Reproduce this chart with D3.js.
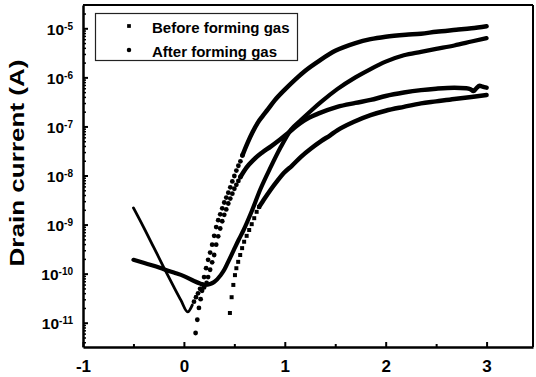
<!DOCTYPE html>
<html><head><meta charset="utf-8">
<script src="https://cdn.jsdelivr.net/npm/d3@7"></script>
<style>
html,body{margin:0;padding:0;background:#fff;}
svg{display:block;font-family:"Liberation Sans",Arial,Helvetica,sans-serif;}
</style></head><body>
<svg id="c" width="536" height="377"></svg>
<script>
// ---------- data (gate voltage V, drain current A) ----------
const legendLabels = ["Before forming gas", "After forming gas"];
const xMajorTicks = [-1, 0, 1, 2, 3];
const xMinorTicks = [-0.5, 0.5, 1.5, 2.5];
const yMajorExponents = [-11, -10, -9, -8, -7, -6, -5];

// After forming gas, higher curve: V-shaped leakage branch, steep dotted rise, saturating tail
const afterHighBranch = [[-0.50,2.19e-9],[-0.40,8.9e-10],[-0.30,3.47e-10],[-0.20,1.35e-10],[-0.10,5.37e-11],[-0.03,2.88e-11],[0.037,1.66e-11],[0.083,2.29e-11]];
const afterHighDots = [[0.10,2.69e-11],[0.12,3.31e-11],[0.14,3.98e-11],[0.16,4.90e-11],[0.18,6.03e-11],[0.20,8.51e-11],[0.22,1.29e-10],[0.24,1.91e-10],[0.26,2.69e-10],[0.28,3.89e-10],[0.30,5.89e-10],[0.32,8.91e-10],[0.34,1.23e-9],[0.36,1.62e-9],[0.38,2.14e-9],[0.40,2.82e-9],[0.42,3.55e-9],[0.44,4.47e-9],[0.46,5.75e-9],[0.48,7.59e-9],[0.50,9.77e-9],[0.52,1.26e-8],[0.54,1.58e-8],[0.56,1.95e-8],[0.58,2.57e-8]];
const afterHighTail = [[0.58,2.57e-8],[0.63,4.57e-8],[0.68,7.59e-8],[0.73,1.17e-7],[0.78,1.62e-7],[0.83,2.19e-7],[0.90,3.39e-7],[1.00,5.62e-7],[1.10,8.91e-7],[1.20,1.35e-6],[1.35,2.24e-6],[1.50,3.47e-6],[1.70,5.01e-6],[1.85,6.03e-6],[2.00,6.76e-6],[2.20,7.41e-6],[2.35,7.76e-6],[2.50,8.51e-6],[2.70,9.33e-6],[2.85,1.0e-5],[3.00,1.10e-5]];

// After forming gas, lower curve
const afterLowDots = [[0.116,6.17e-12],[0.133,1.15e-11],[0.149,2.0e-11],[0.166,3.02e-11],[0.18,4.47e-11],[0.20,5.25e-11],[0.225,6.46e-11],[0.24,8.51e-11],[0.26,1.20e-10],[0.28,1.70e-10],[0.30,2.40e-10],[0.32,3.89e-10],[0.34,5.75e-10],[0.36,8.32e-10],[0.38,1.17e-9],[0.40,1.58e-9],[0.42,2.04e-9],[0.44,2.69e-9],[0.46,3.39e-9],[0.48,4.27e-9],[0.50,5.37e-9],[0.52,6.46e-9],[0.54,7.76e-9],[0.56,9.33e-9]];
const afterLowTail = [[0.56,9.33e-9],[0.62,1.45e-8],[0.69,2.09e-8],[0.77,2.88e-8],[0.86,3.89e-8],[0.95,5.37e-8],[1.03,7.24e-8],[1.11,1.0e-7],[1.19,1.32e-7],[1.33,1.82e-7],[1.52,2.51e-7],[1.70,3.02e-7],[1.85,3.47e-7],[2.00,4.17e-7],[2.18,4.90e-7],[2.35,5.50e-7],[2.50,5.89e-7],[2.68,6.17e-7],[2.80,6.03e-7],[2.84,5.75e-7],[2.87,5.25e-7],[2.90,6.03e-7],[2.93,6.76e-7],[2.96,6.46e-7],[3.00,6.17e-7]];

// Before forming gas, higher curve (dense, appears solid)
const beforeHighTrace = [[-0.50,1.91e-10],[-0.40,1.66e-10],[-0.30,1.45e-10],[-0.20,1.23e-10],[-0.10,1.05e-10],[0.00,8.91e-11],[0.10,7.08e-11],[0.16,6.31e-11],[0.215,5.89e-11],[0.26,6.17e-11],[0.30,6.76e-11],[0.365,9.33e-11],[0.40,1.20e-10],[0.434,1.66e-10],[0.494,3.02e-10],[0.543,4.90e-10],[0.592,7.76e-10],[0.662,1.66e-9],[0.76,5.37e-9],[0.86,1.48e-8],[0.96,3.80e-8],[1.06,8.51e-8],[1.16,1.35e-7],[1.26,2.09e-7],[1.36,3.16e-7],[1.52,5.75e-7],[1.70,1.0e-6],[1.85,1.48e-6],[2.00,2.09e-6],[2.18,2.82e-6],[2.35,3.31e-6],[2.50,3.80e-6],[2.68,4.47e-6],[2.85,5.37e-6],[3.00,6.31e-6]];

// Before forming gas, lower curve
const beforeLowDots = [[0.456,1.58e-11],[0.473,3.31e-11],[0.490,5.89e-11],[0.506,9.33e-11],[0.520,1.29e-10],[0.538,1.74e-10],[0.558,2.40e-10],[0.577,3.31e-10],[0.597,4.47e-10],[0.622,5.89e-10],[0.647,7.76e-10],[0.672,1.02e-9],[0.697,1.35e-9],[0.721,1.82e-9],[0.746,2.29e-9]];
const beforeLowTail = [[0.746,2.29e-9],[0.80,3.39e-9],[0.86,5.13e-9],[0.93,7.94e-9],[0.99,1.12e-8],[1.07,1.58e-8],[1.16,2.40e-8],[1.26,3.55e-8],[1.36,5.01e-8],[1.45,6.61e-8],[1.52,8.32e-8],[1.68,1.23e-7],[1.85,1.70e-7],[2.00,2.09e-7],[2.18,2.51e-7],[2.35,2.95e-7],[2.50,3.24e-7],[2.68,3.63e-7],[2.85,3.98e-7],[3.00,4.37e-7]];

// ---------- layout ----------
const L = 83, R = 533, T = 5, B = 347;
const svg = d3.select("#c");
const x = d3.scaleLinear().domain([-1, 3.46]).range([L, R]);
const y = d3.scaleLog().domain([3.2e-12, 2.985e-5]).range([B, T]);
const ink = "#000";

// clip
svg.append("defs").append("clipPath").attr("id", "clip")
  .append("rect").attr("x", L).attr("y", T).attr("width", R - L).attr("height", B - T);

// frame (top, right)
svg.append("line").attr("x1", L).attr("x2", R).attr("y1", T).attr("y2", T).attr("stroke", ink).attr("stroke-width", 2);
svg.append("line").attr("x1", R).attr("x2", R).attr("y1", T).attr("y2", B).attr("stroke", ink).attr("stroke-width", 2);

// x axis
const gx = svg.append("g").attr("transform", `translate(0,${B})`)
  .call(d3.axisBottom(x).tickValues(xMajorTicks).tickSizeInner(-5).tickSizeOuter(0).tickPadding(13).tickFormat(d3.format("d")));
gx.select(".domain").attr("stroke", ink).attr("stroke-width", 2.5);
gx.selectAll(".tick line").attr("stroke", ink).attr("stroke-width", 2);
gx.selectAll(".tick text").attr("font-size", 17).attr("font-weight", "bold").attr("fill", ink)
  .text(d => d < 0 ? "-" + Math.abs(d) : String(d));
const gxm = svg.append("g").attr("transform", `translate(0,${B})`)
  .call(d3.axisBottom(x).tickValues(xMinorTicks).tickSizeInner(-3).tickSizeOuter(0).tickFormat(""));
gxm.select(".domain").remove();
gxm.selectAll(".tick line").attr("stroke", ink).attr("stroke-width", 2);

// y axis
const yMajorVals = yMajorExponents.map(e => Math.pow(10, e));
const gy = svg.append("g").attr("transform", `translate(${L},0)`)
  .call(d3.axisLeft(y).tickValues(yMajorVals).tickSizeInner(-5).tickSizeOuter(0).tickFormat(""));
gy.select(".domain").attr("stroke", ink).attr("stroke-width", 2.5);
gy.selectAll(".tick line").attr("stroke", ink).attr("stroke-width", 2);
gy.selectAll(".tick text").remove();
gy.selectAll(".tick").each(function(d, i) {
  const t = d3.select(this).append("text")
    .attr("x", -10).attr("y", 6).attr("text-anchor", "end")
    .attr("font-weight", "bold").attr("fill", ink);
  t.append("tspan").attr("font-size", 15.5).text("10");
  t.append("tspan").attr("font-size", 10).attr("dy", -5).text(String(yMajorExponents[i]));
});
const yMinorVals = [];
for (let e = -12; e <= -5; e++) for (let m = 2; m <= 9; m++) {
  const v = m * Math.pow(10, e);
  if (v >= y.domain()[0] && v <= y.domain()[1]) yMinorVals.push(v);
}
const gym = svg.append("g").attr("transform", `translate(${L},0)`)
  .call(d3.axisLeft(y).tickValues(yMinorVals).tickSizeInner(-3).tickSizeOuter(0).tickFormat(""));
gym.select(".domain").remove();
gym.selectAll(".tick line").attr("stroke", ink).attr("stroke-width", 1.5);

// axis title
svg.append("text")
  .attr("transform", "translate(24,163) rotate(-90)")
  .attr("text-anchor", "middle")
  .attr("font-size", 21).attr("font-weight", "bold").attr("fill", ink)
  .attr("textLength", 207).attr("lengthAdjust", "spacingAndGlyphs")
  .text("Drain current (A)");

// ---------- data marks ----------
const plot = svg.append("g").attr("clip-path", "url(#clip)");
const line = d3.line().x(d => x(d[0])).y(d => y(d[1])).curve(d3.curveMonotoneX);
function trace(data, w) {
  plot.append("path").datum(data).attr("d", line)
    .attr("fill", "none").attr("stroke", ink).attr("stroke-width", w)
    .attr("stroke-linejoin", "round").attr("stroke-linecap", "round");
}
const circleSym = d3.symbol().type(d3.symbolCircle).size(18);
const squareSym = d3.symbol().type(d3.symbolSquare).size(16);
function dots(data, sym) {
  plot.append("g").selectAll("path").data(data).join("path")
    .attr("transform", d => `translate(${x(d[0])},${y(d[1])})`)
    .attr("d", sym).attr("fill", ink);
}

trace(afterHighBranch, 2.8);
dots(afterHighDots, circleSym);
trace(afterHighTail, 4.5);
dots(afterLowDots, circleSym);
trace(afterLowTail, 4.5);
trace(beforeHighTrace, 4.2);
dots(beforeLowDots, squareSym);
trace(beforeLowTail, 4.5);

// ---------- legend ----------
svg.append("rect").attr("x", 95.5).attr("y", 13.5).attr("width", 202).attr("height", 47)
  .attr("fill", "#fff").attr("stroke", "#222").attr("stroke-width", 1.2);
const legSyms = [d3.symbol().type(d3.symbolSquare).size(14), d3.symbol().type(d3.symbolCircle).size(16)];
const legY = [26, 50];
legendLabels.forEach((lab, i) => {
  svg.append("path").attr("d", legSyms[i]()).attr("transform", `translate(129,${legY[i]})`).attr("fill", ink);
  svg.append("text").attr("x", 152).attr("y", legY[i] + 6.5)
    .attr("font-size", 15).attr("font-weight", "bold").attr("fill", ink).text(lab);
});
</script>
</body></html>
